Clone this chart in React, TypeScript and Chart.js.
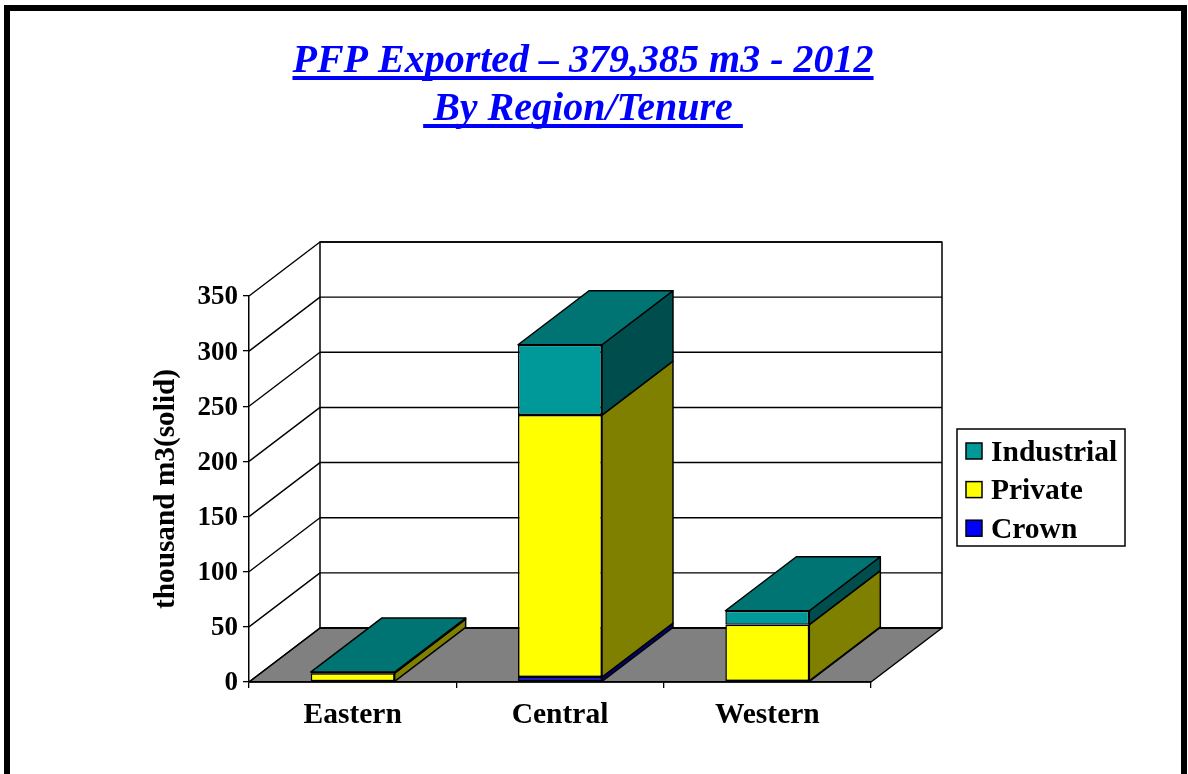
import React, { useEffect, useRef } from "react";
import { Chart, registerables } from "chart.js";

Chart.register(...registerables);

const FONT = '"Liberation Serif", "Times New Roman", serif';
const titleLines = ["PFP Exported – 379,385 m3 - 2012", " By Region/Tenure "];
const categories = ["Eastern", "Central", "Western"];
const crown = [0, 4.5, 1];
const priv = [8, 237.5, 51];
const industrial = [1, 63.8, 12.6];
const yTitle = "thousand m3(solid)";

const DX = 71;
const DY = 54;

const sideColors = ["#000080", "#808000", "#004D4D"];
const topColor = "#007373";

function poly(ctx: CanvasRenderingContext2D, pts: number[][], fill: string | null, stroke = "#000", lw = 1) {
  ctx.beginPath();
  pts.forEach((p, i) => (i ? ctx.lineTo(p[0], p[1]) : ctx.moveTo(p[0], p[1])));
  ctx.closePath();
  if (fill) {
    ctx.fillStyle = fill;
    ctx.fill();
  }
  ctx.lineWidth = lw;
  ctx.strokeStyle = stroke;
  ctx.lineJoin = "round";
  ctx.stroke();
}

const wallsPlugin = {
  id: "walls",
  beforeDraw(chart: any) {
    const { ctx, chartArea: a, scales } = chart;
    const y = scales.y;
    ctx.save();
    // floor
    poly(ctx, [[a.left, a.bottom], [a.right, a.bottom], [a.right + DX, a.bottom - DY], [a.left + DX, a.bottom - DY]], "#808080", "#000", 1.5);
    // back wall
    ctx.strokeStyle = "#000";
    ctx.lineWidth = 1.5;
    ctx.strokeRect(a.left + DX, a.top - DY, a.right - a.left, a.bottom - a.top);
    y.ticks.forEach((t: any) => {
      const py = y.getPixelForValue(t.value);
      ctx.beginPath();
      ctx.lineWidth = 1.4;
      ctx.moveTo(a.left, py);
      ctx.lineTo(a.left + DX, py - DY);
      ctx.lineTo(a.right + DX, py - DY);
      ctx.stroke();
    });
    ctx.restore();
  },
};

const boxesPlugin = {
  id: "boxes",
  afterDatasetsDraw(chart: any) {
    const { ctx } = chart;
    ctx.save();
    const n = chart.data.labels.length;
    for (let c = 0; c < n; c++) {
      let topBar: any = null;
      chart.data.datasets.forEach((ds: any, d: number) => {
        const bar = chart.getDatasetMeta(d).data[c];
        if (!ds.data[c]) return;
        const r = bar.x + bar.width / 2;
        poly(ctx, [[r, bar.y], [r + DX, bar.y - DY], [r + DX, bar.base - DY], [r, bar.base]], sideColors[d], "#000", 1.5);
        topBar = bar;
      });
      if (topBar) {
        const l = topBar.x - topBar.width / 2;
        const r = topBar.x + topBar.width / 2;
        const t = topBar.y;
        poly(ctx, [[l, t], [l + DX, t - DY], [r + DX, t - DY], [r, t]], topColor, "#000", 1.5);
      }
    }
    ctx.restore();
  },
};

const textPlugin = {
  id: "texts",
  afterDraw(chart: any) {
    const { ctx } = chart;
    ctx.save();
    // title
    ctx.font = `italic bold 40px ${FONT}`;
    ctx.textAlign = "left";
    ctx.textBaseline = "alphabetic";
    ctx.fillStyle = "#0000FF";
    titleLines.forEach((line, i) => {
      const w = ctx.measureText(line).width;
      const x = 583 - w / 2;
      const base = 72 + i * 48;
      ctx.fillText(line, x, base);
      ctx.fillRect(x, base + 4, w, 4);
    });
    // legend
    const lx = 957, ly = 429, lw = 168, lh = 117;
    ctx.fillStyle = "#fff";
    ctx.fillRect(lx, ly, lw, lh);
    ctx.strokeStyle = "#000";
    ctx.lineWidth = 1.5;
    ctx.strokeRect(lx, ly, lw, lh);
    ctx.font = `bold 29.5px ${FONT}`;
    const items = chart.data.datasets.slice().reverse();
    items.forEach((ds: any, i: number) => {
      const cy = 451 + i * 38.6;
      ctx.fillStyle = ds.backgroundColor;
      ctx.fillRect(966, cy - 8, 16, 16);
      ctx.strokeRect(966, cy - 8, 16, 16);
      ctx.fillStyle = "#000";
      ctx.textBaseline = "alphabetic";
      ctx.fillText(ds.label, 991, cy + 9.5);
    });
    ctx.restore();
  },
};

export default function App() {
  const ref = useRef<HTMLCanvasElement>(null);
  useEffect(() => {
    const mk = (label: string, data: number[], color: string) => ({
      label,
      data,
      backgroundColor: color,
      borderColor: "#000",
      borderWidth: 1.5,
      borderSkipped: false,
      barPercentage: 0.405,
      categoryPercentage: 1,
    });
    const chart = new Chart(ref.current as HTMLCanvasElement, {
      type: "bar",
      data: {
        labels: categories,
        datasets: [mk("Crown", crown, "#0000FF"), mk("Private", priv, "#FFFF00"), mk("Industrial", industrial, "#009999")],
      },
      plugins: [wallsPlugin, boxesPlugin, textPlugin],
      options: {
        responsive: false,
        animation: false,
        layout: { padding: { left: 152, top: 296, right: 317, bottom: 32 } },
        plugins: { legend: { display: false }, tooltip: { enabled: false } },
        scales: {
          x: {
            stacked: true,
            afterFit(s: any) {
              s.height = 60;
            },
            grid: { display: true, drawOnChartArea: false, drawTicks: true, tickLength: 6, color: "#000", lineWidth: 1.3 },
            border: { display: true, color: "#000", width: 1.5 },
            ticks: { color: "#000", font: { family: FONT, weight: "bold", size: 29.5 }, padding: 10, maxRotation: 0 },
          },
          y: {
            stacked: true,
            min: 0,
            max: 350,
            afterFit(s: any) {
              s.width = 97;
            },
            grid: { display: true, drawOnChartArea: false, drawTicks: true, tickLength: 6, color: "#000", lineWidth: 1.3 },
            border: { display: true, color: "#000", width: 1.5 },
            ticks: { stepSize: 50, color: "#000", font: { family: FONT, weight: "bold", size: 27 }, padding: 5, labelOffset: 1.5 },
            title: {
              display: true,
              text: yTitle,
              color: "#000",
              font: { family: FONT, weight: "bold", size: 29.3, lineHeight: 1 },
              padding: 0,
            },
          },
        },
      },
    } as any);
    return () => chart.destroy();
  }, []);
  return (
    <div style={{ position: "fixed", left: 0, top: 0, width: 1188, height: 774, overflow: "hidden", background: "#fff" }}>
      <div style={{ position: "absolute", left: 4, top: 5, width: 1171, height: 800, border: "6px solid #000" }} />
      <canvas ref={ref} width={1188} height={774} style={{ position: "absolute", left: 0, top: 0, display: "block" }} />
    </div>
  );
}
